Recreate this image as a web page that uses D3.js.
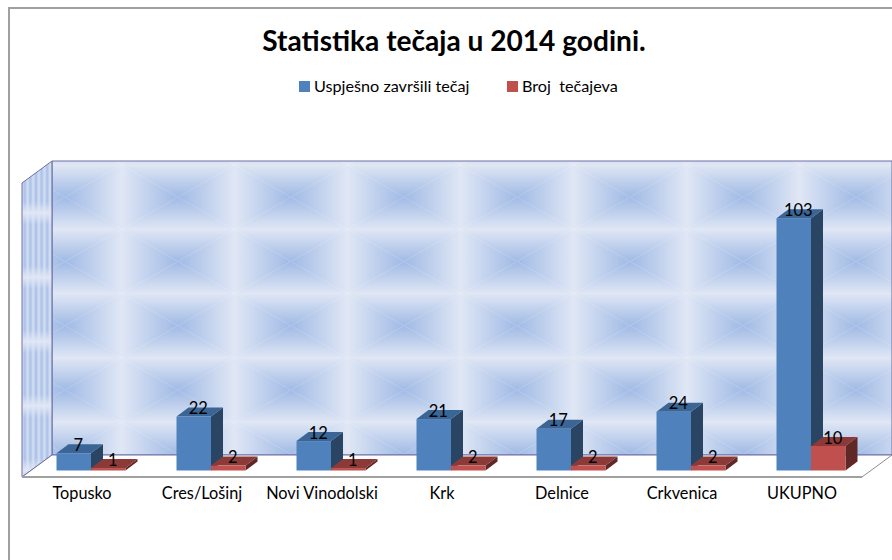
<!DOCTYPE html>
<html>
<head>
<meta charset="utf-8">
<script src="https://cdn.jsdelivr.net/npm/d3@7"></script>
<style>
  html, body { margin: 0; padding: 0; background: #fff; overflow: hidden; }
  svg { display: block; }
  text { font-family: Lato, "Open Sans", sans-serif; fill: #000; }
</style>
</head>
<body>
<div id="chart"></div>
<script>
const categories = ["Topusko", "Cres/Lošinj", "Novi Vinodolski", "Krk", "Delnice", "Crkvenica", "UKUPNO"]
const seriesNames = ["Uspješno završili tečaj", "Broj  tečajeva"]
const completed = [7, 22, 12, 21, 17, 24, 103]
const courses = [1, 2, 1, 2, 2, 2, 10]
const yMax = 120

const width = 892
const height = 560
// front edge of the floor and how far the room goes back
const floor = { left: 22, right: 862, front: 477, dx: 30, dy: -22 }
const barBase = 470.5
const barDepth = { dx: 12, dy: -9 }

const colors = [
  { front: "#4f81bd", top: "#3a6594", side: "#2a4563" },
  { front: "#c0504d", top: "#8b3a38", side: "#5f2826" }
]
const wallLine = "#6f6fa6"
const frameLine = "#a0a0a0"

const x0 = d3.scaleBand().domain(categories).range([floor.left, floor.right])
const x1 = d3.scaleBand().domain(seriesNames).range([0, 69])
const y = d3.scaleLinear().domain([0, yMax]).range([barBase, barBase - 294])

const svg = d3.select("#chart").append("svg")
  .attr("width", width)
  .attr("height", height)

const defs = svg.append("defs")

function gradient(id, x2, y2, stops) {
  const g = defs.append("linearGradient").attr("id", id)
    .attr("x1", 0).attr("y1", 0).attr("x2", x2).attr("y2", y2)
  stops.forEach(s => g.append("stop").attr("offset", s[0]).attr("stop-color", s[1]))
}

// wall tile: four wedges fading from a pale edge to a blue centre
const fade = [[0, "#e0e7f5"], [1, "#a0bae5"]]
gradient("fadeRight", 1, 0, fade)
gradient("fadeLeft", 1, 0, fade.map(s => [1 - s[0], s[1]]).reverse())
gradient("fadeDown", 0, 1, fade)
gradient("fadeUp", 0, 1, fade.map(s => [1 - s[0], s[1]]).reverse())

const tileW = 113
const tileH = 64.3
const tile = defs.append("pattern").attr("id", "wallTile")
  .attr("patternUnits", "userSpaceOnUse")
  .attr("x", 8.5).attr("y", 165)
  .attr("width", tileW).attr("height", tileH)
const cx = tileW / 2
const cy = tileH / 2
const wedges = [
  [[[0, 0], [cx, cy], [0, tileH]], "fadeRight"],
  [[[tileW, 0], [cx, cy], [tileW, tileH]], "fadeLeft"],
  [[[0, 0], [tileW, 0], [cx, cy]], "fadeDown"],
  [[[0, tileH], [tileW, tileH], [cx, cy]], "fadeUp"]
]
wedges.forEach(w => {
  tile.append("polygon")
    .attr("points", w[0].join(" "))
    .attr("fill", `url(#${w[1]})`)
})

// side wall: thin vertical stripes, washed out by pale horizontal bands
gradient("sideStripe", 1, 0, [[0, "#d8e1f3"], [0.5, "#a6bee7"], [1, "#d8e1f3"]])
const stripe = defs.append("pattern").attr("id", "sideStripes")
  .attr("patternUnits", "userSpaceOnUse")
  .attr("x", 22).attr("y", 0)
  .attr("width", 5.6).attr("height", 20)
stripe.append("rect").attr("width", 5.6).attr("height", 20).attr("fill", "url(#sideStripe)")

gradient("sideBand", 0, 1, [[0, "#e0e7f5"], [0.18, "#e0e7f5"], [0.82, "#e0e7f5"], [1, "#e0e7f5"]])
defs.select("#sideBand").selectAll("stop")
  .attr("stop-opacity", (d, i) => [1, 0, 0, 1][i])
const band = defs.append("pattern").attr("id", "sideBands")
  .attr("patternUnits", "userSpaceOnUse")
  .attr("x", 0).attr("y", 213)
  .attr("width", 8).attr("height", 64.3)
band.append("rect").attr("width", 8).attr("height", 64.3).attr("fill", "url(#sideBand)")

const back = {
  left: floor.left + floor.dx,
  right: floor.right + floor.dx,
  y: floor.front + floor.dy
}
const wallTop = back.y - 294

const poly = (pts, fill) => svg.append("polygon")
  .attr("points", pts.join(" "))
  .attr("fill", fill)

// frame around the chart
svg.append("path")
  .attr("d", `M9,${height} V8 H${width}`)
  .attr("fill", "none")
  .attr("stroke", frameLine)
  .attr("stroke-width", 2)

// back wall, side wall, floor
poly([[back.left, wallTop], [back.right, wallTop], [back.right, back.y], [back.left, back.y]], "url(#wallTile)")
  .attr("stroke", wallLine)
const sideWall = [[floor.left, floor.front], [floor.left, wallTop - floor.dy], [back.left, wallTop], [back.left, back.y]]
poly(sideWall, "url(#sideStripes)")
poly(sideWall, "url(#sideBands)").attr("stroke", wallLine)
poly([[floor.left, floor.front], [back.left, back.y], [back.right, back.y], [floor.right, floor.front]], "#fff")

svg.append("line")
  .attr("x1", floor.left).attr("y1", floor.front)
  .attr("x2", back.left).attr("y2", back.y)
  .attr("stroke", wallLine)
svg.append("line")
  .attr("x1", back.left).attr("y1", back.y)
  .attr("x2", back.right).attr("y2", back.y)
  .attr("stroke", wallLine)
svg.append("line")
  .attr("x1", floor.right).attr("y1", floor.front)
  .attr("x2", back.right).attr("y2", back.y)
  .attr("stroke", "#8c8c8c")
svg.append("line")
  .attr("x1", floor.left).attr("y1", floor.front)
  .attr("x2", floor.right).attr("y2", floor.front)
  .attr("stroke", frameLine)
  .attr("stroke-width", 2)

// bars, one group per category; bars sit 9px right of the band centre
const rows = categories.map((c, i) => ({ category: c, values: [completed[i], courses[i]] }))
const barOffset = (floor.dx - barDepth.dx) / 2 - x1.range()[1] / 2 + x0.bandwidth() / 2

const groups = svg.selectAll(".group")
  .data(rows)
  .enter()
  .append("g")
  .attr("class", "group")
  .attr("transform", d => `translate(${x0(d.category) + barOffset}, 0)`)

const bars = groups.selectAll(".bar")
  .data(d => d.values.map((v, s) => ({ value: v, name: seriesNames[s], color: colors[s] })))
  .enter()
  .append("g")
  .attr("class", "bar")

bars.append("polygon")
  .attr("fill", d => d.color.side)
  .attr("points", d => {
    const r = x1(d.name) + x1.bandwidth()
    return [[r, y(d.value)], [r + barDepth.dx, y(d.value) + barDepth.dy],
      [r + barDepth.dx, barBase + barDepth.dy], [r, barBase]].join(" ")
  })
bars.append("polygon")
  .attr("fill", d => d.color.top)
  .attr("points", d => {
    const l = x1(d.name)
    const r = l + x1.bandwidth()
    return [[l, y(d.value)], [l + barDepth.dx, y(d.value) + barDepth.dy],
      [r + barDepth.dx, y(d.value) + barDepth.dy], [r, y(d.value)]].join(" ")
  })
bars.append("rect")
  .attr("fill", d => d.color.front)
  .attr("x", d => x1(d.name))
  .attr("y", d => y(d.value))
  .attr("width", x1.bandwidth())
  .attr("height", d => barBase - y(d.value))

// value labels on top of everything
groups.selectAll(".value")
  .data(d => d.values.map((v, s) => ({ value: v, name: seriesNames[s] })))
  .enter()
  .append("text")
  .attr("class", "value")
  .attr("x", d => x1(d.name) + x1.bandwidth() / 2 + 4.5)
  .attr("y", d => y(d.value) - 2.5)
  .attr("text-anchor", "middle")
  .attr("font-size", 16.5)
  .text(d => d.value)

// category labels
svg.selectAll(".category")
  .data(categories)
  .enter()
  .append("text")
  .attr("class", "category")
  .attr("x", d => x0(d) + x0.bandwidth() / 2)
  .attr("y", 499)
  .attr("text-anchor", "middle")
  .attr("font-size", 16.3)
  .text(d => d)

svg.append("text")
  .attr("x", 454)
  .attr("y", 51)
  .attr("text-anchor", "middle")
  .attr("font-size", 28.1)
  .attr("font-weight", 700)
  .text("Statistika tečaja u 2014 godini.")

// legend
const legendX = [299, 507]
const legend = svg.selectAll(".legend")
  .data(seriesNames)
  .enter()
  .append("g")
  .attr("class", "legend")
  .attr("transform", (d, i) => `translate(${legendX[i]}, 81)`)
legend.append("rect")
  .attr("width", 11)
  .attr("height", 11)
  .attr("fill", (d, i) => colors[i].front)
legend.append("text")
  .attr("x", 15)
  .attr("y", 11)
  .attr("font-size", 16.2)
  .style("white-space", "pre")
  .text(d => d)
</script>
</body>
</html>
